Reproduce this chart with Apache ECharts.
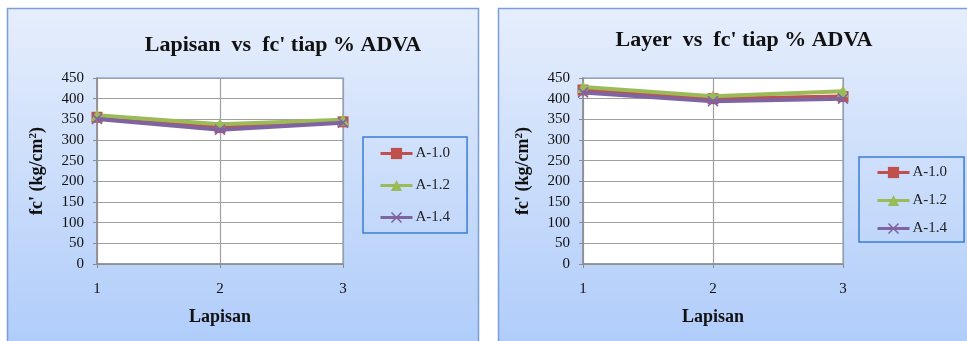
<!DOCTYPE html>
<html>
<head>
<meta charset="utf-8">
<script src="https://cdn.jsdelivr.net/npm/echarts@6/dist/echarts.min.js"></script>
<style>
html,body{margin:0;padding:0;background:#fff;}
#c{width:967px;height:341px;}
</style>
</head>
<body>
<div id="c"></div>
<script>
// ---- data ----
const categories = ['1', '2', '3'];
const seriesNames = ['A-1.0', 'A-1.2', 'A-1.4'];
const leftTitle = "Lapisan  vs  fc' tiap % ADVA";
const rightTitle = "Layer  vs  fc' tiap % ADVA";
const xAxisName = 'Lapisan';
const yMin = 0, yMax = 450, yInterval = 50;
// left chart (Lapisan)
const lapisanA10 = [355, 330, 344];
const lapisanA12 = [360, 338, 349];
const lapisanA14 = [351, 325, 342];
// right chart (Layer)
const layerA10 = [421, 400, 405];
const layerA12 = [428, 406, 418];
const layerA14 = [415, 394, 400];

const colors = ['#c0504d', '#9bbb59', '#8064a2'];
const symbols = ['rect', 'triangle',
  'path://M0,1L1,0L5,4L9,0L10,1L6,5L10,9L9,10L5,6L1,10L0,9L4,5Z'];
const symbolSizes = [11, 12, 11];
const serif = "'Liberation Serif', 'Times New Roman', serif";

const chart = echarts.init(document.getElementById('c'), null, {renderer: 'canvas'});

function makeGrid(left, width) {
  return {left: left, top: 78, width: width, height: 186, show: true,
    backgroundColor: '#ffffff', borderColor: '#8db3e2', borderWidth: 1.5};
}
function makeX(idx) {
  return {
    type: 'category', gridIndex: idx, data: categories, boundaryGap: false,
    name: xAxisName, nameLocation: 'middle', nameGap: 44,
    nameTextStyle: {fontFamily: serif, fontWeight: 'bold', fontSize: 18, color: '#111'},
    axisLine: {show: true, lineStyle: {color: '#8c8c8c', width: 1.5}},
    axisTick: {show: true, length: 4, inside: false, alignWithLabel: true, lineStyle: {color: '#8c8c8c'}},
    axisLabel: {fontFamily: serif, fontSize: 15, color: '#111', margin: 18},
    splitLine: {show: true, lineStyle: {color: '#a0a0a0', width: 1.2}}
  };
}
function makeY(idx) {
  return {
    type: 'value', gridIndex: idx, min: yMin, max: yMax, interval: yInterval,
    name: "fc' (kg/cm{sup|2})", nameLocation: 'middle', nameGap: 50, nameRotate: 90,
    nameTextStyle: {fontFamily: serif, fontWeight: 'bold', fontSize: 18, color: '#111',
      rich: {sup: {fontFamily: serif, fontWeight: 'bold', fontSize: 11, color: '#111', verticalAlign: 'top', padding: [0, 0, 8, 0]}}},
    axisLine: {show: true, lineStyle: {color: '#8c8c8c', width: 1.5}},
    axisTick: {show: true, length: 4, inside: false, lineStyle: {color: '#8c8c8c'}},
    axisLabel: {fontFamily: serif, fontSize: 15, color: '#111', margin: 13},
    splitLine: {show: true, lineStyle: {color: '#a0a0a0', width: 1.2}}
  };
}
function makeSeries(name, data, i, idx) {
  return {
    name: name, type: 'line', xAxisIndex: idx, yAxisIndex: idx, data: data,
    symbol: symbols[i], symbolSize: symbolSizes[i], showAllSymbol: true,
    lineStyle: {color: colors[i], width: 4},
    itemStyle: {color: colors[i]},
    emphasis: {disabled: true}, animation: false, z: 2 + i
  };
}
function makeLegend(idx, left, top, gap, padding) {
  return {
    show: true, orient: 'vertical', left: left, top: top,
    data: seriesNames, itemWidth: 32, itemHeight: 14, itemGap: gap,
    padding: padding, borderColor: '#3b7dd8', borderWidth: 1.5, borderRadius: 0,
    backgroundColor: 'rgba(0,0,0,0)',
    lineStyle: {width: 3},
    textStyle: {fontFamily: serif, fontSize: 15, color: '#222', padding: [0, 0, 0, -2]},
    selectedMode: false
  };
}

const panelGradient = () => new echarts.graphic.LinearGradient(0, 0, 0, 1, [
  {offset: 0, color: '#e6eefc'}, {offset: 1, color: '#afccfa'}]);

const option = {
  animation: false,
  backgroundColor: '#ffffff',
  graphic: [
    {type: 'rect', z: -10, silent: true, shape: {x: 7.5, y: 8.5, width: 471, height: 340},
      style: {fill: panelGradient(), stroke: '#7a9fd8', lineWidth: 1.5}},
    {type: 'rect', z: -10, silent: true, shape: {x: 498.5, y: 8.5, width: 480, height: 340},
      style: {fill: panelGradient(), stroke: '#7a9fd8', lineWidth: 1.5}}
  ],
  title: [
    {text: leftTitle, left: 278, top: 29, textAlign: 'center',
      textStyle: {fontFamily: serif, fontWeight: 'bold', fontSize: 22, color: '#111'}},
    {text: rightTitle, left: 739, top: 24, textAlign: 'center',
      textStyle: {fontFamily: serif, fontWeight: 'bold', fontSize: 22, color: '#111'}}
  ],
  legend: [
    makeLegend(0, 363, 137, 17, [9, 17, 8, 16]),
    makeLegend(1, 859, 157, 13, [8, 17, 6, 17])
  ],
  grid: [makeGrid(97, 246), makeGrid(583, 260)],
  xAxis: [makeX(0), makeX(1)],
  yAxis: [makeY(0), makeY(1)],
  series: [
    makeSeries(seriesNames[0], lapisanA10, 0, 0),
    makeSeries(seriesNames[1], lapisanA12, 1, 0),
    makeSeries(seriesNames[2], lapisanA14, 2, 0),
    makeSeries(seriesNames[0], layerA10, 0, 1),
    makeSeries(seriesNames[1], layerA12, 1, 1),
    makeSeries(seriesNames[2], layerA14, 2, 1)
  ]
};
chart.setOption(option);
</script>
</body>
</html>
